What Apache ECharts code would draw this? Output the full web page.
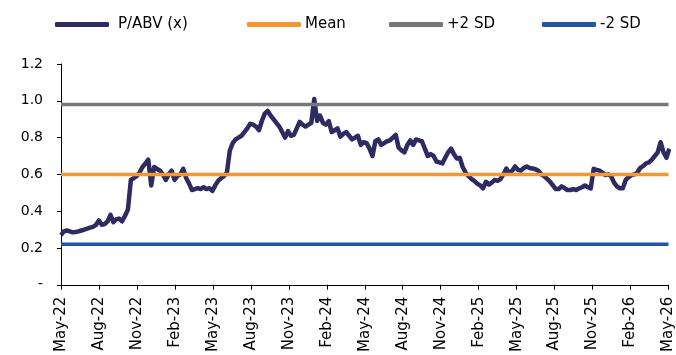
<!DOCTYPE html>
<html>
<head>
<meta charset="utf-8">
<script src="https://cdn.jsdelivr.net/npm/echarts@6/dist/echarts.min.js"></script>
<style>
  html, body { margin: 0; padding: 0; background: #fff; }
  #chart { width: 676px; height: 355px; }
</style>
</head>
<body>
<div id="chart"></div>
<script>
// Weekly P/ABV (x) readings starting May-2022
const pabvWeekly = [
  0.27, 0.29, 0.295, 0.29, 0.285, 0.287, 0.29, 0.295, 0.30, 0.305,
  0.31, 0.315, 0.325, 0.35, 0.326, 0.33, 0.345, 0.38, 0.34, 0.355,
  0.36, 0.345, 0.375, 0.41, 0.57, 0.58, 0.59, 0.61, 0.64, 0.66,
  0.68, 0.54, 0.64, 0.63, 0.62, 0.60, 0.57, 0.60, 0.62, 0.57,
  0.59, 0.60, 0.63, 0.58, 0.55, 0.515, 0.52, 0.525, 0.52, 0.53,
  0.52, 0.525, 0.51, 0.54, 0.565, 0.58, 0.59, 0.61, 0.73, 0.77,
  0.79, 0.80, 0.81, 0.83, 0.85, 0.875, 0.87, 0.86, 0.84, 0.89,
  0.93, 0.945, 0.92, 0.90, 0.88, 0.86, 0.83, 0.80, 0.835, 0.81,
  0.815, 0.85, 0.885, 0.87, 0.86, 0.87, 0.88, 1.01, 0.89, 0.92,
  0.88, 0.87, 0.89, 0.83, 0.84, 0.85, 0.805, 0.82, 0.83, 0.81,
  0.79, 0.80, 0.81, 0.76, 0.775, 0.77, 0.74, 0.70, 0.78, 0.79,
  0.76, 0.77, 0.78, 0.785, 0.80, 0.815, 0.745, 0.73, 0.72, 0.76,
  0.785, 0.76, 0.79, 0.785, 0.78, 0.74, 0.70, 0.71, 0.70, 0.67,
  0.665, 0.66, 0.69, 0.72, 0.74, 0.71, 0.686, 0.69, 0.64, 0.61,
  0.59, 0.575, 0.565, 0.55, 0.54, 0.524, 0.56, 0.545, 0.555, 0.57,
  0.565, 0.575, 0.60, 0.632, 0.605, 0.62, 0.643, 0.625, 0.62, 0.635,
  0.643, 0.635, 0.632, 0.628, 0.62, 0.60, 0.59, 0.575, 0.56, 0.54,
  0.52, 0.52, 0.535, 0.525, 0.515, 0.515, 0.52, 0.515, 0.524, 0.53,
  0.54, 0.53, 0.524, 0.63, 0.625, 0.62, 0.61, 0.596, 0.60, 0.59,
  0.555, 0.535, 0.524, 0.524, 0.57, 0.585, 0.596, 0.60, 0.61, 0.635,
  0.645, 0.66, 0.665, 0.68, 0.70, 0.72, 0.775, 0.72, 0.69, 0.74
];

// Band levels
const meanLevel = 0.60;
const plus2SdLevel = 0.98;
const minus2SdLevel = 0.22;

// Quarterly x-axis tick labels
const tickLabels = [
  'May-22', 'Aug-22', 'Nov-22', 'Feb-23', 'May-23', 'Aug-23', 'Nov-23', 'Feb-24',
  'May-24', 'Aug-24', 'Nov-24', 'Feb-25', 'May-25', 'Aug-25', 'Nov-25', 'Feb-26', 'May-26'
];

const seriesNames = ['P/ABV (x)', 'Mean', '+2 SD', '-2 SD'];
const colors = ['#2E2A62', '#F7962F', '#787878', '#2354A6'];

// x is measured in months since the first week
const monthsPerWeek = 7 * 12 / 365.25;
const totalMonths = (tickLabels.length - 1) * 3;
const pabvData = pabvWeekly.map((v, i) => [i * monthsPerWeek, v]);
const flat = v => [[0, v], [totalMonths, v]];

const FONT = 'DejaVu Sans';
const legendLefts = [50, 242, 384, 537];

const chart = echarts.init(document.getElementById('chart'), null, { renderer: 'canvas' });
chart.setOption({
  animation: false,
  color: colors,
  grid: { left: 61, right: 7, top: 64, bottom: 68, containLabel: false },
  legend: seriesNames.map((name, k) => ({
    data: [name],
    left: legendLefts[k],
    top: 12,
    icon: 'roundRect',
    itemWidth: 54,
    itemHeight: 5,
    itemGap: 0,
    textStyle: { fontFamily: FONT, fontSize: 15, color: '#000', padding: [0, 0, 0, k === 0 ? 4 : -1] }
  })),
  xAxis: {
    type: 'value',
    min: 0,
    max: totalMonths,
    interval: 3,
    splitLine: { show: false },
    axisLine: { lineStyle: { color: '#000', width: 1 } },
    axisTick: { show: true, length: 5, lineStyle: { color: '#000' } },
    axisLabel: {
      rotate: 90,
      margin: 12,
      fontFamily: FONT,
      fontSize: 15,
      color: '#000',
      formatter: v => tickLabels[Math.round(v / 3)] || ''
    }
  },
  yAxis: {
    type: 'value',
    min: 0,
    max: 1.2,
    interval: 0.2,
    splitLine: { show: false },
    axisLine: { show: true, lineStyle: { color: '#000', width: 1 } },
    axisTick: { show: true, length: 4, lineStyle: { color: '#000' } },
    axisLabel: {
      margin: 18,
      fontFamily: FONT,
      fontSize: 14,
      color: '#000',
      formatter: v => v === 0 ? '-' : v.toFixed(1)
    }
  },
  series: [
    {
      name: seriesNames[0], type: 'line', data: pabvData, showSymbol: false,
      lineStyle: { width: 4.5, color: colors[0], join: 'round' }, z: 2
    },
    {
      name: seriesNames[1], type: 'line', data: flat(meanLevel), showSymbol: false,
      lineStyle: { width: 3.5, color: colors[1] }, z: 3
    },
    {
      name: seriesNames[2], type: 'line', data: flat(plus2SdLevel), showSymbol: false,
      lineStyle: { width: 3.5, color: colors[2] }, z: 3
    },
    {
      name: seriesNames[3], type: 'line', data: flat(minus2SdLevel), showSymbol: false,
      lineStyle: { width: 3.5, color: colors[3] }, z: 3
    }
  ]
});
</script>
</body>
</html>
